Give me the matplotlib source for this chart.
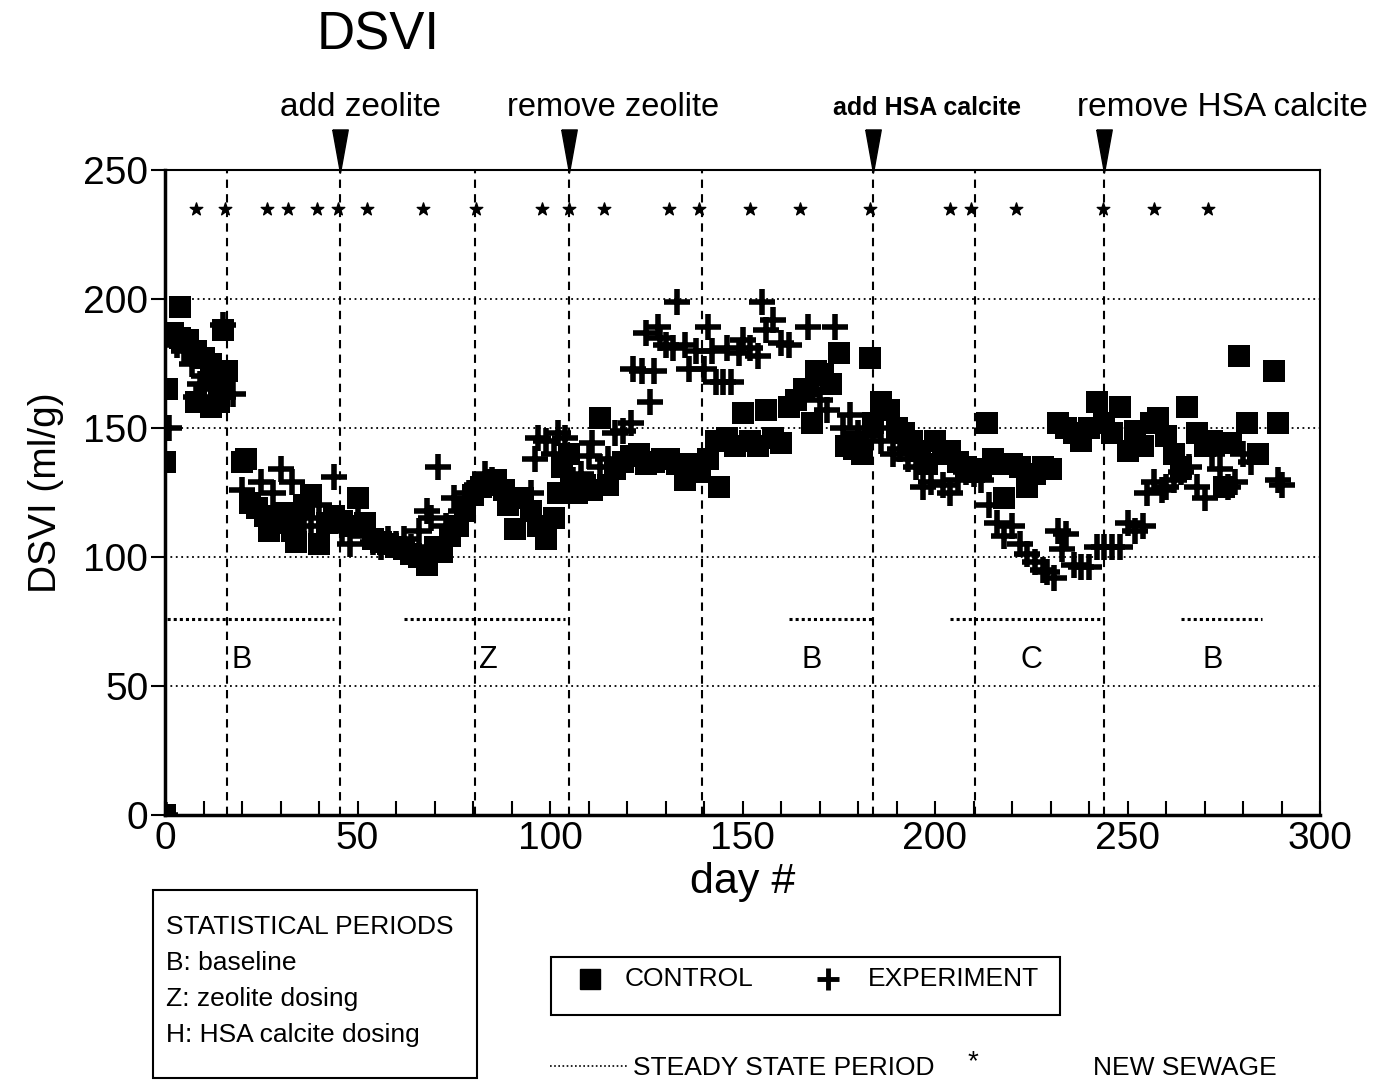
import matplotlib
matplotlib.use('Agg')
import matplotlib.pyplot as plt
from matplotlib.ticker import MultipleLocator

plt.rcParams['font.family'] = ['Liberation Sans', 'DejaVu Sans']

# control (squares): day, DSVI
ctrl_day = [0, 0, 0.5, 2, 4, 4, 6, 8, 10, 12, 13, 15, 15, 8, 12, 14, 16,
            20, 21, 22, 24, 26, 27, 29, 31, 33, 34, 36, 38, 40, 42, 44, 46, 48,
            50, 52, 54, 56, 58, 60, 62, 64, 66, 68, 70, 72, 74, 76, 78, 80, 82,
            84, 86, 88, 89, 91, 93, 95, 97, 99, 101, 102, 103, 105, 107, 109,
            111, 113, 115, 117, 119, 121, 123, 125, 127, 129, 131, 133, 135,
            137, 139, 141, 143, 144, 146, 148, 150, 152, 154, 156, 158, 160,
            162, 164, 166, 168, 169, 171, 173, 175, 177, 179, 181, 183, 184,
            186, 188, 190, 192, 194, 196, 198, 200, 202, 204, 206, 208, 210,
            212, 213.5, 215, 217, 218, 220, 222, 224, 226, 228, 230, 232, 234,
            236, 238, 240, 242, 244, 246, 248, 250, 252, 254, 256, 258, 260,
            262, 264, 265.5, 268, 270, 272, 275, 277, 279, 281, 284, 288, 289]
ctrl_val = [0, 137, 165, 187, 197, 185, 184, 180, 177, 175, 170, 188, 165, 160, 158, 160, 172,
            137, 138, 121, 119, 116, 110, 113, 117, 110, 106, 120, 124, 105, 113, 116, 114, 112,
            123, 113, 107, 106, 105, 104, 103, 101, 100, 97, 104, 102, 108, 112, 118, 124, 127,
            128, 130, 126, 120, 111, 123, 118, 112, 107, 115, 125, 135, 140, 125, 128,
            126, 154, 128, 134, 137, 139, 140, 136, 137, 138, 138, 136, 130,
            136, 133, 138, 145, 127, 146, 143, 156, 145, 143, 157, 146, 144,
            158, 161, 165, 152, 172, 171, 167, 179, 143, 142, 140, 177, 152,
            160, 157, 150, 148, 145, 141, 136, 145, 140, 141, 137, 135, 133,
            134, 152, 138, 136, 123, 136, 135, 127, 132, 135, 134, 152, 150,
            148, 145, 150, 160, 152, 148, 158, 141, 149, 143, 152, 154, 147,
            140, 135, 158, 148, 143, 145, 127, 144, 178, 152, 140, 172, 152]

# experiment (plus): day, DSVI
exp_day = [0, 1, 3, 5, 7, 8, 9, 10, 12, 13, 15, 15, 17.6,
           20, 23, 25, 28, 30, 33, 34, 36, 38, 40, 44, 46, 48, 50, 52, 54, 56,
           58, 60, 62, 64, 66, 68, 69, 71, 73, 75, 77, 79, 81, 83, 85, 87, 89,
           91, 93, 95, 96, 97, 99, 101, 102, 104, 106, 108, 110, 111, 113, 115,
           117, 119, 121, 121.6, 124, 125, 126, 127, 128, 128.5, 130, 132, 133,
           135, 136, 138, 140, 141, 142, 143, 145, 146, 147, 149, 150, 152,
           154, 155, 156, 158, 160, 162, 167, 169, 170, 172, 174, 176, 178,
           180, 182, 184, 186, 189, 191, 193, 195, 197, 199, 202, 204, 206,
           208, 210, 212, 214, 216, 218, 220, 222, 224, 226, 228, 229, 231,
           232, 233, 234, 236, 238, 240, 242, 244, 246, 248, 250, 252, 254,
           255, 257, 259, 260, 262, 264, 266, 268, 270, 272, 274, 276, 278,
           280, 282, 289, 290]
exp_val = [0, 150, 182, 180, 175, 162, 167, 170, 165, 160, 162, 190, 163,
           126, 120, 129, 125, 134, 129, 119, 115, 112, 120, 131, 110, 105, 114, 108, 106, 104,
           107, 105, 107, 104, 110, 118, 115, 135, 112, 123, 118, 125, 128, 132, 130, 128, 125,
           122, 120, 125, 138, 146, 145, 140, 148, 146, 130, 132, 139, 144, 135, 138,
           148, 149, 152, 173, 172, 187, 160, 172, 189, 185, 182, 181, 199,
           182, 173, 180, 173, 189, 180, 168, 168, 181, 168, 179, 184, 181,
           178, 199, 188, 192, 183, 182, 189, 167, 161, 157, 189, 150, 155,
           148, 147, 150, 145, 140, 142, 138, 135, 127, 129, 128, 125, 130,
           133, 132, 130, 120, 113, 108, 112, 105, 101, 98, 95, 94, 92,
           110, 103, 109, 97, 96, 96, 104, 104, 104, 104, 113, 110, 112,
           125, 129, 126, 127, 130, 133, 135, 127, 123, 140, 134, 127, 129,
           140, 137, 130, 128]

# events
event_day = [16, 45.5, 80.5, 105, 139.5, 184, 210.5, 244]
arrow_day = [45.5, 105, 184, 244]
sewage_day = [8, 15.6, 26.5, 32, 39.5, 45, 52.5, 67, 80.8, 98, 105, 114, 131,
              138.6, 152, 165, 183, 204, 209.4, 221, 243.6, 257, 271]
steady_start = [-1, 62, 162, 204, 264]
steady_end = [44, 104, 184, 243, 285]
period_day = [20, 84, 168, 225, 272]
period_lab = ['B', 'Z', 'B', 'C', 'B']

W, H = 1381, 1083
fig = plt.figure(figsize=(W / 100, H / 100), dpi=100)
ax = fig.add_axes([165 / W, 1 - 815 / H, 1155 / W, 645 / H])

def fp(x, y):
    return x / W, 1 - y / H

ax.set_xlim(0, 300)
ax.set_ylim(0, 250)

for y in [50, 100, 150, 200]:
    ax.axhline(y, color='black', lw=1.3, ls=(0, (1, 2)), zorder=1)
for d in event_day:
    ax.axvline(d, color='black', lw=1.5, ls=(0, (4, 3)), zorder=1)

ax.scatter(ctrl_day, ctrl_val, marker='s', s=235, color='black', lw=0, zorder=3)
ax.scatter(exp_day, exp_val, marker='+', s=330, color='black', linewidths=4, zorder=4)

ax.scatter(sewage_day, [235] * len(sewage_day), marker='*', s=90, color='black', zorder=4)

for a, b in zip(steady_start, steady_end):
    ax.plot([a, b], [76, 76], color='black', lw=2.2, ls=(0, (1, 1)), zorder=2)
for d, lab in zip(period_day, period_lab):
    ax.text(d, 60, lab, fontsize=22, ha='center', va='center')

tri = [(-0.36, 1), (0.36, 1), (0, -1), (-0.36, 1)]
ax.plot(arrow_day, [257.5] * len(arrow_day), ls='none', marker=tri, ms=31,
        color='black', clip_on=False, zorder=5)

ax.xaxis.set_major_locator(MultipleLocator(50))
ax.xaxis.set_minor_locator(MultipleLocator(10))
ax.yaxis.set_major_locator(MultipleLocator(50))
ax.tick_params(axis='x', which='both', direction='in', length=10, width=1.5, labelsize=28, pad=4)
ax.tick_params(axis='y', which='major', direction='out', length=10, width=1.5, labelsize=28, pad=2)
for s in ax.spines.values():
    s.set_linewidth(1.5)
ax.spines['left'].set_linewidth(2.5)
ax.spines['bottom'].set_linewidth(2.5)

ax.set_xlabel('day #', fontsize=31, labelpad=4)
ax.set_ylabel('DSVI (ml/g)', fontsize=28, labelpad=14)

fig.text(*fp(378, 35), 'DSVI', fontsize=38, ha='center', va='center')
fig.text(*fp(360, 108), 'add zeolite', fontsize=24, ha='center', va='center')
fig.text(*fp(613, 108), 'remove zeolite', fontsize=23.5, ha='center', va='center')
fig.text(*fp(927, 108), 'add HSA calcite', fontsize=18, ha='center', va='center', fontweight='bold')
fig.text(*fp(1222, 108), 'remove HSA calcite', fontsize=24, ha='center', va='center')

# statistical periods box
box = plt.Rectangle(fp(153, 1078), 324 / W, 188 / H, transform=fig.transFigure,
                    fill=False, lw=1.5, color='black')
fig.add_artist(box)
for yy, t in zip([927, 963, 999, 1035],
                 ['STATISTICAL PERIODS', 'B: baseline', 'Z: zeolite dosing', 'H: HSA calcite dosing']):
    fig.text(*fp(166, yy), t, fontsize=19, ha='left', va='center')

# symbol legend box
box2 = plt.Rectangle(fp(551, 1015), 509 / W, 58 / H, transform=fig.transFigure,
                     fill=False, lw=1.5, color='black')
fig.add_artist(box2)
fig.lines.append(plt.Line2D([590 / W], [1 - 979 / H], marker='s', ms=14, color='black',
                            ls='none', transform=fig.transFigure))
fig.lines.append(plt.Line2D([828 / W], [1 - 979 / H], marker='+', ms=16, mew=3.5, color='black',
                            ls='none', transform=fig.transFigure))
fig.text(*fp(625, 979), 'CONTROL', fontsize=19, ha='left', va='center')
fig.text(*fp(868, 979), 'EXPERIMENT', fontsize=19, ha='left', va='center')

fig.lines.append(plt.Line2D([550 / W, 628 / W], [1 - 1066 / H] * 2, lw=1.2, ls=(0, (1, 1.5)),
                            color='black', transform=fig.transFigure))
fig.text(*fp(633, 1068), 'STEADY STATE PERIOD', fontsize=19, ha='left', va='center')
fig.text(*fp(973, 1062), '*', fontsize=20, ha='center', va='center')
fig.text(*fp(1093, 1068), 'NEW SEWAGE', fontsize=19, ha='left', va='center')

fig.savefig('out.png', dpi=100)
